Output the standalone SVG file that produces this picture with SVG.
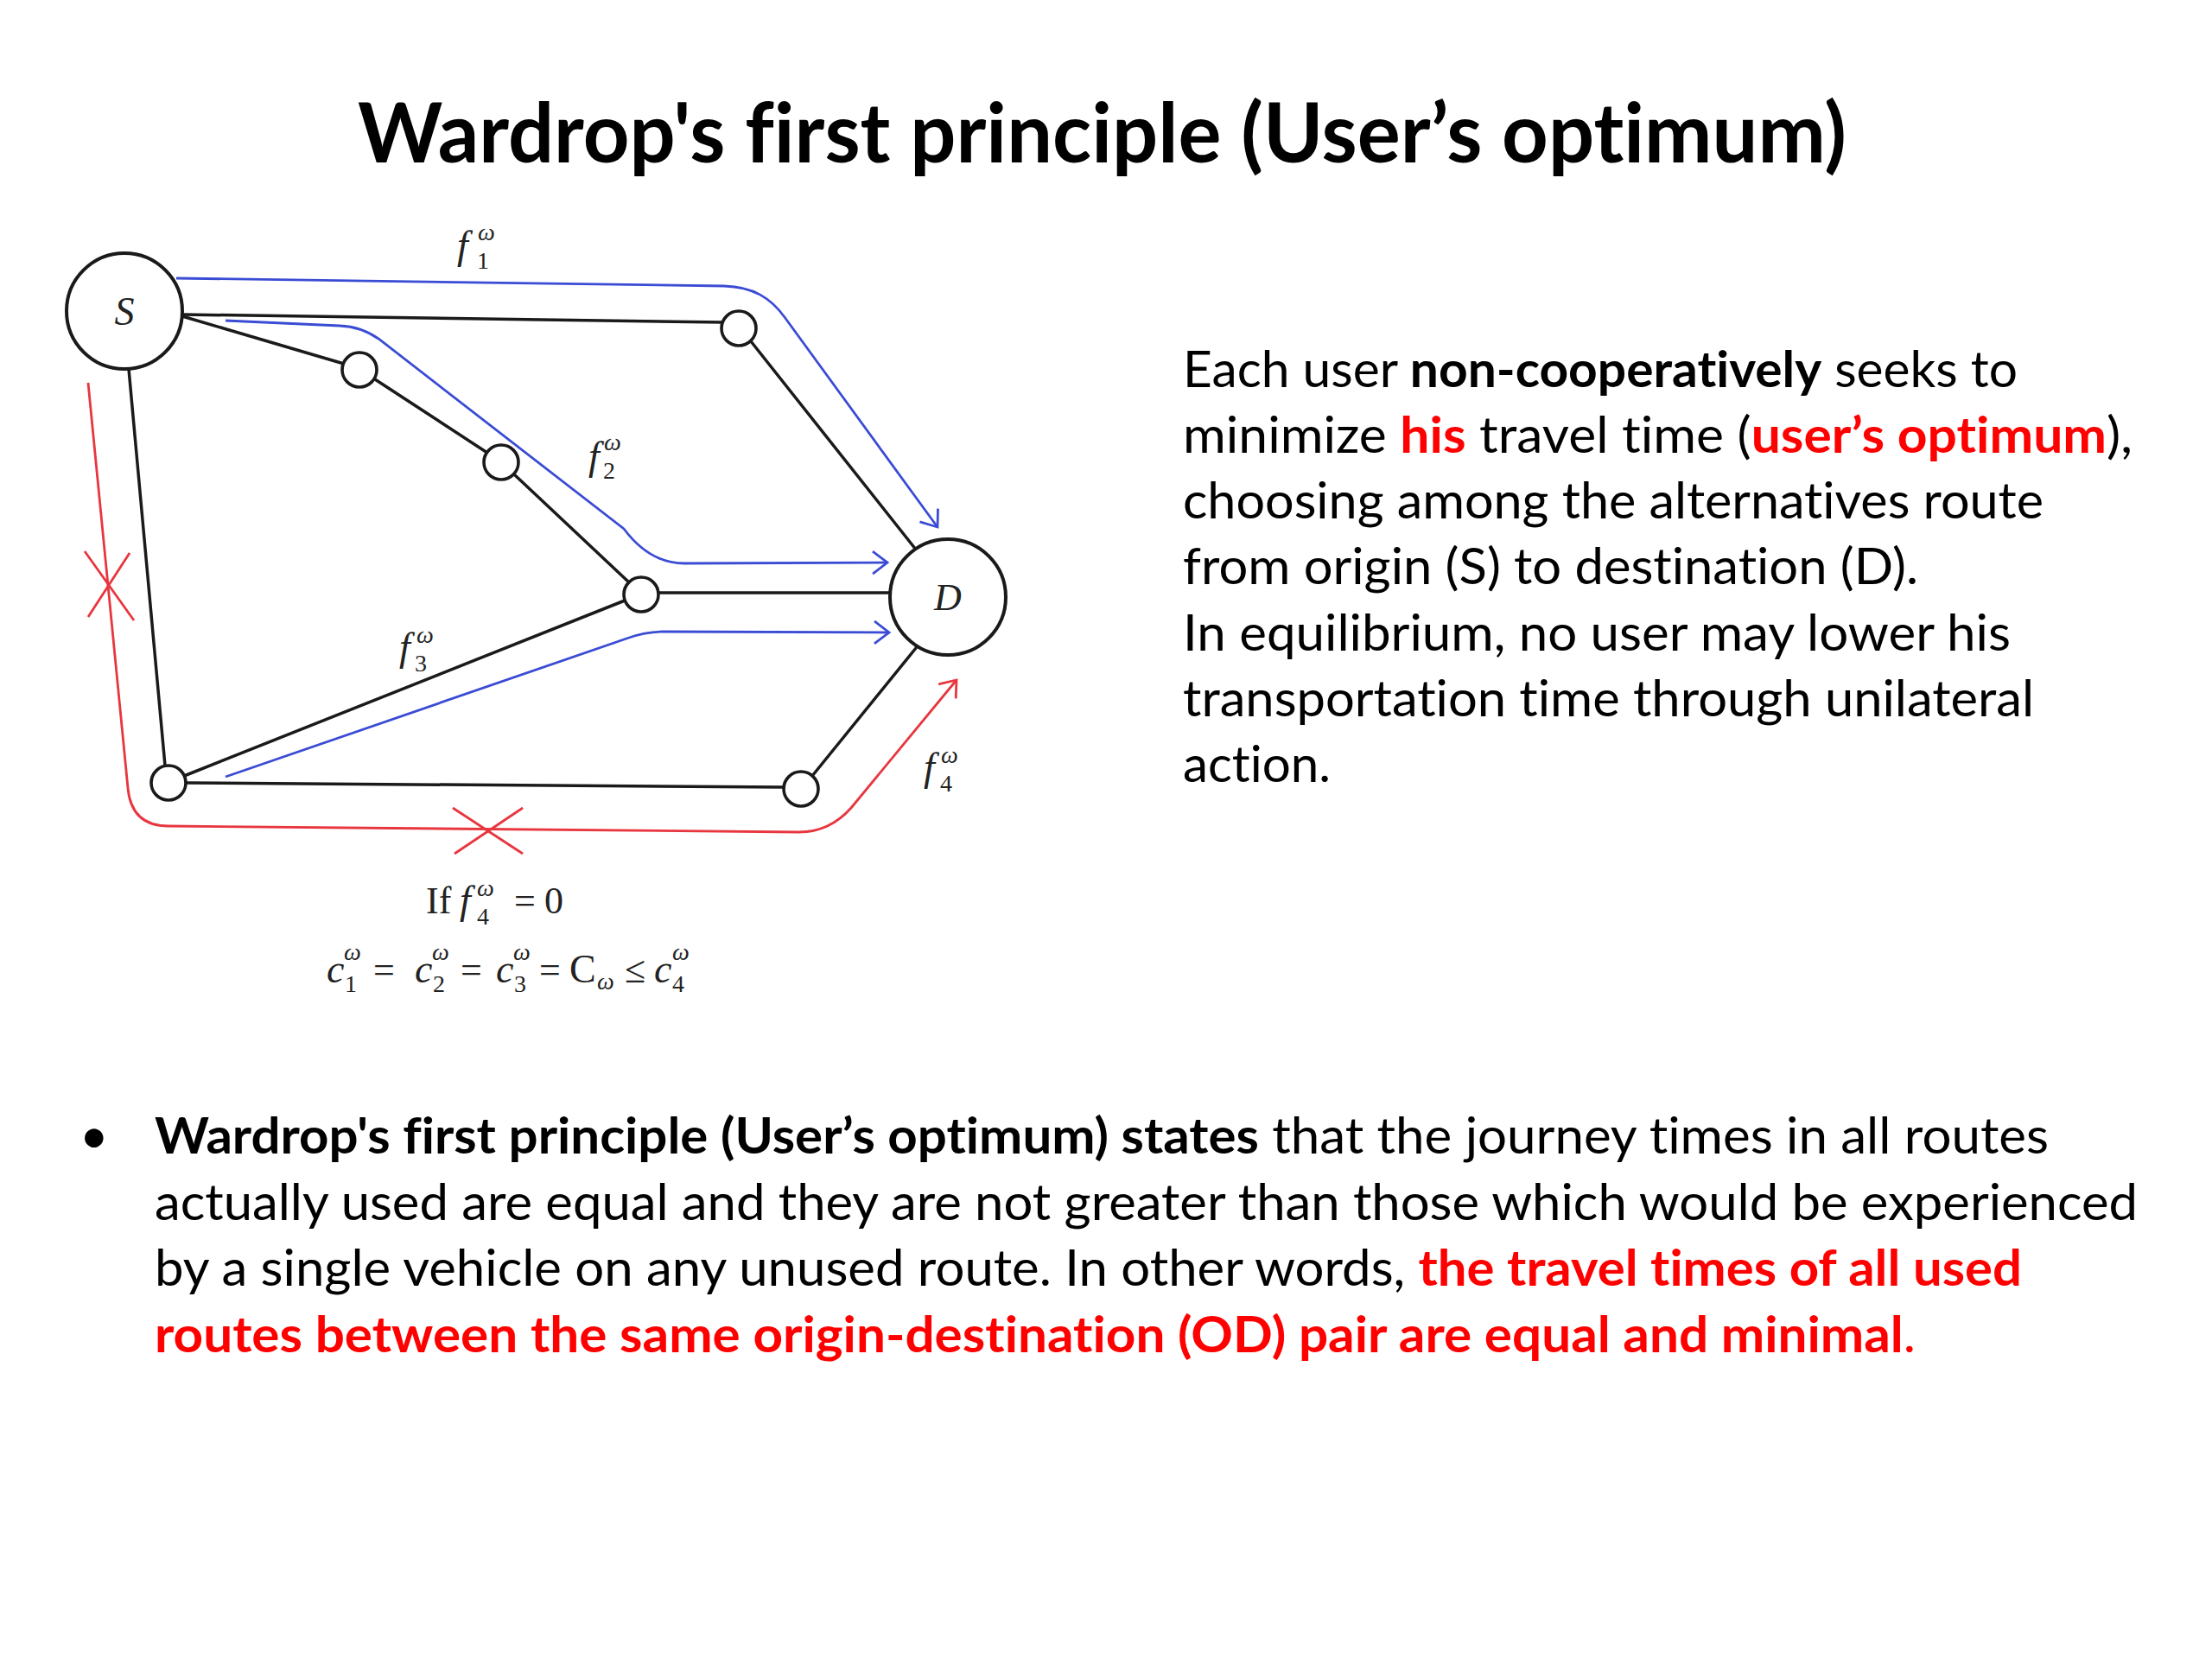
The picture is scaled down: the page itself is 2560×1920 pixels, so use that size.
<svg xmlns="http://www.w3.org/2000/svg" width="2560" height="1920" viewBox="0 0 2560 1920">
<style>
text{font-variant-ligatures:none}
.edge{stroke:#1a1a1a;stroke-width:3.5;fill:none;stroke-linecap:round}
.flow{stroke:#3b4cd4;stroke-width:2.8;fill:none}
.red{stroke:#e8363f;stroke-width:2.8;fill:none}
.big{fill:#fff;stroke:#1a1a1a;stroke-width:4}
.small{fill:#fff;stroke:#1a1a1a;stroke-width:3.6}
.math{font-family:"Liberation Serif","Times New Roman",serif;fill:#222}
.it{font-style:italic}
.body{font-family:Lato,"Open Sans",sans-serif;font-size:58px;fill:#000}
.b{font-weight:700}
.r{fill:#ff0000}
</style>
<defs>
<marker id="arrB" markerUnits="userSpaceOnUse" viewBox="-20 -16 24 32" refX="0" refY="0" markerWidth="24" markerHeight="32" orient="auto">
<path d="M -17 -13 L 0 0 L -17 13" fill="none" stroke="#3b4cd4" stroke-width="2.8"/>
</marker>
<marker id="arrR" markerUnits="userSpaceOnUse" viewBox="-20 -16 24 32" refX="0" refY="0" markerWidth="24" markerHeight="32" orient="auto">
<path d="M -17 -13 L 0 0 L -17 13" fill="none" stroke="#e8363f" stroke-width="2.8"/>
</marker>
</defs>
<rect width="2560" height="1920" fill="#fff"/>

<text x="414" y="188" font-family="Lato,'Open Sans',sans-serif" font-weight="700" font-size="96" textLength="1723" lengthAdjust="spacingAndGlyphs">Wardrop's first principle (User’s optimum)</text>

<g id="connectors">
<line class="edge" x1="211" y1="364" x2="836" y2="373"/>
<line class="edge" x1="211" y1="366" x2="398" y2="421"/>
<line class="edge" x1="434" y1="439" x2="564" y2="524"/>
<line class="edge" x1="595" y1="549" x2="728" y2="674"/>
<line class="edge" x1="869" y1="395" x2="1060" y2="636"/>
<line class="edge" x1="762" y1="686" x2="1030" y2="686"/>
<line class="edge" x1="149" y1="427" x2="191" y2="886"/>
<line class="edge" x1="213" y1="898" x2="723" y2="695"/>
<line class="edge" x1="215" y1="906" x2="907" y2="911"/>
<line class="edge" x1="940" y1="898" x2="1060" y2="750"/>

<path class="flow" marker-end="url(#arrB)" d="M 204 322 L 838 331 C 872 332 892 345 908 367 L 1085 610"/>
<path class="flow" marker-end="url(#arrB)" d="M 261 371 L 393 377 Q 418 378 438 392 L 722 612 Q 752 652 792 652 L 1027 651"/>
<path class="flow" marker-end="url(#arrB)" d="M 261 899 L 728 738 Q 748 731 768 731 L 1029 732"/>
<path class="red" marker-end="url(#arrR)" d="M 102 443 L 148 912 Q 152 956 195 956 L 925 963 Q 960 963 985 935 L 1107 787"/>

<g id="cross-1"><line class="red" x1="98" y1="638" x2="155" y2="718"/><line class="red" x1="150" y1="640" x2="102" y2="714"/></g>
<g id="cross-2"><line class="red" x1="524" y1="935" x2="605" y2="988"/><line class="red" x1="605" y1="935" x2="526" y2="988"/></g>
</g>

<g id="node-S"><circle class="big" cx="144" cy="360" r="67"/><text class="math it" x="144" y="376" font-size="46" text-anchor="middle">S</text></g>
<g id="node-D"><circle class="big" cx="1097" cy="691" r="67"/><text class="math it" x="1097" y="706" font-size="44" text-anchor="middle">D</text></g>
<g id="node-A"><circle class="small" cx="855" cy="380" r="20"/></g>
<g id="node-B"><circle class="small" cx="416" cy="428" r="20"/></g>
<g id="node-C"><circle class="small" cx="580" cy="535" r="20"/></g>
<g id="node-F"><circle class="small" cx="742" cy="688" r="20"/></g>
<g id="node-E"><circle class="small" cx="195" cy="906" r="20"/></g>
<g id="node-G"><circle class="small" cx="927" cy="913" r="20"/></g>

<g id="label-f1" class="math"><text class="it" x="529" y="299" font-size="46">f</text><text x="552" y="311" font-size="28">1</text><text class="it" x="553" y="278" font-size="28">ω</text></g>
<g id="label-f2" class="math"><text class="it" x="681" y="543" font-size="46">f</text><text x="698" y="554" font-size="28">2</text><text class="it" x="699" y="521" font-size="28">ω</text></g>
<g id="label-f3" class="math"><text class="it" x="462" y="764" font-size="46">f</text><text x="480" y="777" font-size="28">3</text><text class="it" x="482" y="744" font-size="28">ω</text></g>
<g id="label-f4" class="math"><text class="it" x="1069" y="903" font-size="46">f</text><text x="1088" y="916" font-size="28">4</text><text class="it" x="1089" y="883" font-size="28">ω</text></g>

<g id="formula" class="math">
<text x="493" y="1057" font-size="44">If</text>
<text class="it" x="532" y="1057" font-size="46">f</text>
<text x="552" y="1070" font-size="28">4</text>
<text class="it" x="552" y="1037" font-size="28">ω</text>
<text x="595" y="1057" font-size="44">=</text>
<text x="630" y="1057" font-size="44">0</text>

<text class="it" x="378" y="1137" font-size="46">c</text><text x="399" y="1148" font-size="28">1</text><text class="it" x="398" y="1111" font-size="28">ω</text>
<text x="432" y="1137" font-size="44">=</text>
<text class="it" x="480" y="1137" font-size="46">c</text><text x="501" y="1148" font-size="28">2</text><text class="it" x="500" y="1111" font-size="28">ω</text>
<text x="533" y="1137" font-size="44">=</text>
<text class="it" x="574" y="1137" font-size="46">c</text><text x="595" y="1148" font-size="28">3</text><text class="it" x="594" y="1111" font-size="28">ω</text>
<text x="624" y="1137" font-size="44">=</text>
<text x="659" y="1137" font-size="46">C</text><text class="it" x="691" y="1145" font-size="28">ω</text>
<text x="723" y="1137" font-size="44">≤</text>
<text class="it" x="757" y="1137" font-size="46">c</text><text x="778" y="1148" font-size="28">4</text><text class="it" x="778" y="1111" font-size="28">ω</text>
</g>

<g id="right-text">
<text class="body" x="1369" y="448" textLength="966" lengthAdjust="spacingAndGlyphs">Each user <tspan class="b">non-cooperatively</tspan> seeks to</text>
<text class="body" x="1369" y="524" textLength="1099" lengthAdjust="spacingAndGlyphs">minimize <tspan class="b r">his</tspan> travel time (<tspan class="b r">user’s optimum</tspan>),</text>
<text class="body" x="1369" y="600" textLength="996" lengthAdjust="spacingAndGlyphs">choosing among the alternatives route</text>
<text class="body" x="1369" y="676" textLength="851" lengthAdjust="spacingAndGlyphs">from origin (S) to destination (D).</text>
<text class="body" x="1369" y="753" textLength="958" lengthAdjust="spacingAndGlyphs">In equilibrium, no user may lower his</text>
<text class="body" x="1369" y="829" textLength="985" lengthAdjust="spacingAndGlyphs">transportation time through unilateral</text>
<text class="body" x="1369" y="905" textLength="171" lengthAdjust="spacingAndGlyphs">action.</text>
</g>

<g id="bottom-text">
<text class="body" x="92" y="1335" font-size="52">•</text>
<text class="body" x="179" y="1335" textLength="2192" lengthAdjust="spacingAndGlyphs"><tspan class="b">Wardrop's first principle (User’s optimum) states</tspan> that the journey times in all routes</text>
<text class="body" x="179" y="1412" textLength="2295" lengthAdjust="spacingAndGlyphs">actually used are equal and they are not greater than those which would be experienced</text>
<text class="body" x="179" y="1488" textLength="2161" lengthAdjust="spacingAndGlyphs">by a single vehicle on any unused route. In other words, <tspan class="b r">the travel times of all used</tspan></text>
<text class="body r" x="179" y="1565" textLength="2038" lengthAdjust="spacingAndGlyphs"><tspan class="b">routes between the same origin-destination (OD) pair are equal and minimal</tspan>.</text>
</g>
</svg>
